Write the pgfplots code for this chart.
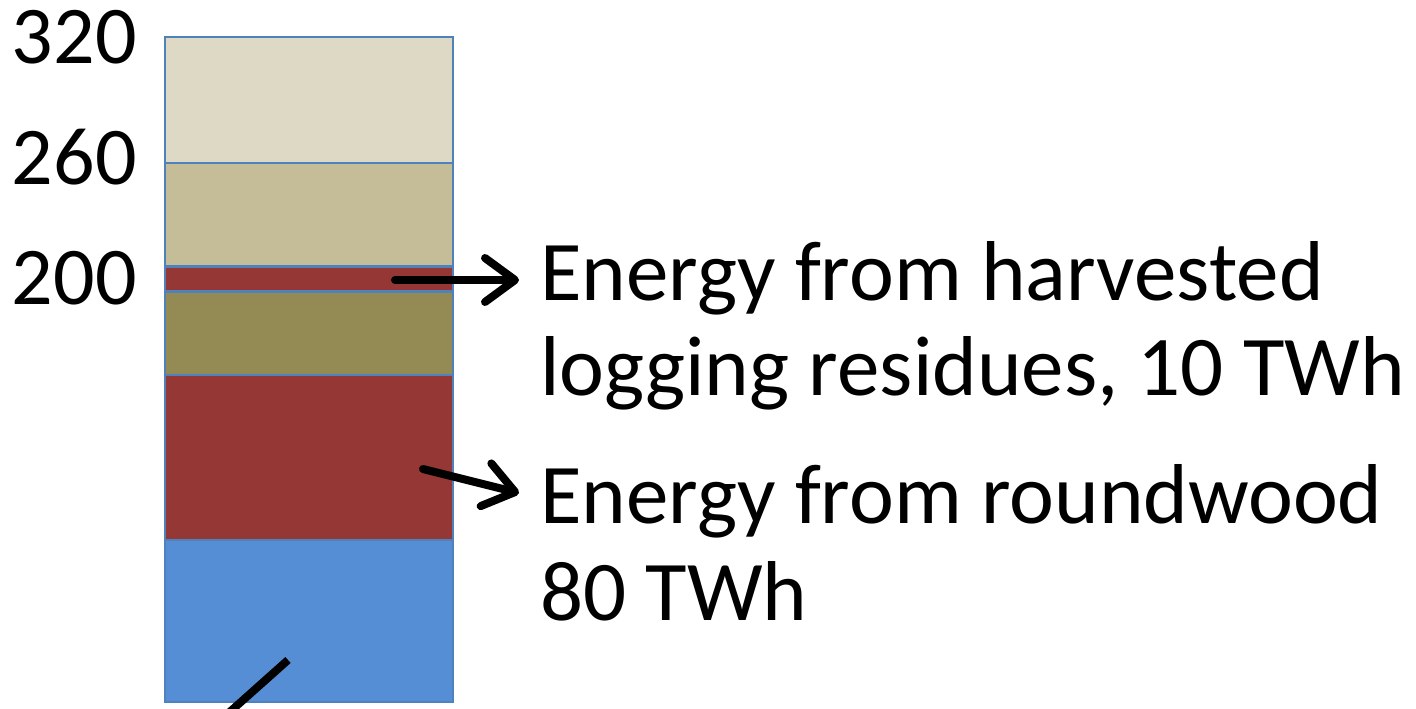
\documentclass[border=0pt]{standalone}
\usepackage{fontspec}
\setmainfont{Carlito}
\usepackage{pgfplots}
\pgfplotsset{compat=1.18}
\usetikzlibrary{arrows.meta}
\definecolor{segblue}{HTML}{558ED5}
\definecolor{segred}{HTML}{953735}
\definecolor{segolive}{HTML}{948A54}
\definecolor{segtan}{HTML}{C4BD97}
\definecolor{seglight}{HTML}{DDD9C4}
\definecolor{edgeblue}{HTML}{4F81BD}
\begin{document}
\begin{tikzpicture}
\path[use as bounding box] (-82.5pt,-3pt) rectangle (625.5pt,351pt);
\begin{axis}[
  at={(0pt,0pt)}, anchor=south west,
  scale only axis, width=144pt, height=332.5pt,
  xmin=-0.5, xmax=0.5, ymin=0, ymax=320,
  ybar stacked, bar width=1,
  clip=false,
  axis line style={draw=none},
  xtick=\empty,
  ytick={204,262,320}, yticklabels={200,260,320},
  major tick length=0pt, tick style={draw=none},
  /pgf/number format/assume math mode=true,
  yticklabel style={font=\fontsize{41}{48}\selectfont, anchor=east, inner sep=0pt, xshift=-14pt},
  every axis plot/.append style={draw=edgeblue, line width=1.2pt},
]
\addplot[fill=segblue] coordinates {(0,78)};
\addplot[fill=segred] coordinates {(0,79.5)};
\addplot[fill=segolive] coordinates {(0,40)};
\addplot[fill=segred] coordinates {(0,12)};
\addplot[fill=segtan] coordinates {(0,50)};
\addplot[fill=seglight] coordinates {(0,60.5)};
\end{axis}
\begin{scope}[line width=4pt, line cap=round, -{Straight Barb[length=15pt,width=22pt,round]}]
\draw (115pt,211pt) -- (177pt,211pt);
\draw (129pt,116.5pt) -- (177pt,104.5pt);
\end{scope}
\draw[line width=4pt] (61.5pt,21pt) -- (20pt,-16pt);
\begin{scope}[every node/.style={anchor=base west, inner sep=0pt, font=\fontsize{42.5}{50}\selectfont}]
\node at (187.5pt,201pt) {Energy from harvested};
\node at (187.5pt,153.5pt) {logging residues, 10 TWh};
\node at (187.5pt,89.5pt) {Energy from roundwood};
\node at (187.5pt,41pt) {80 TWh};
\end{scope}
\end{tikzpicture}
\end{document}
